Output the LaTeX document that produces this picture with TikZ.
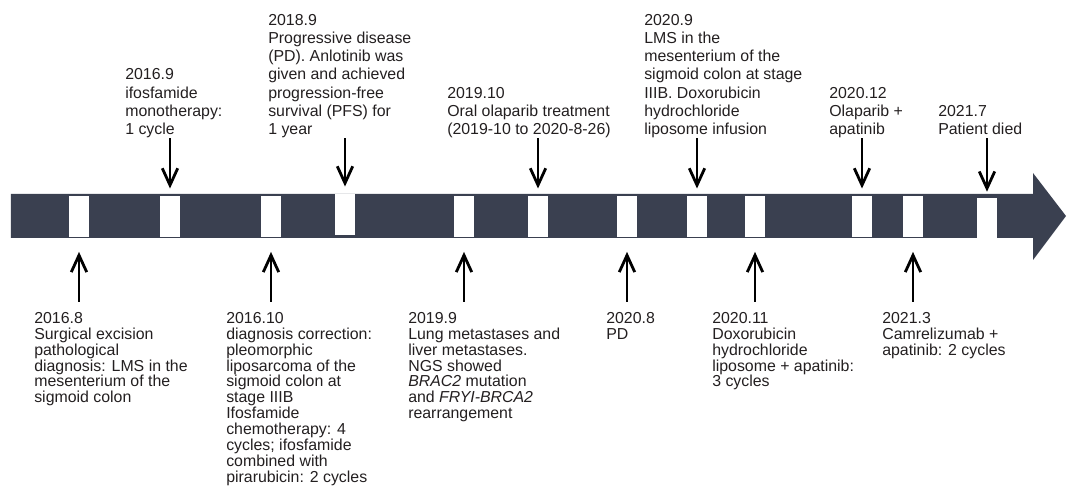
\documentclass[tikz,border=0pt]{standalone}
\usepackage{fontspec}
\setmainfont{Liberation Sans}
\usetikzlibrary{arrows.meta}
\definecolor{barcol}{RGB}{58,64,80}
\definecolor{txtcol}{RGB}{35,31,32}

\begin{document}
\begin{tikzpicture}[
	slot/.style={fill=white, inner sep=0pt, minimum width=0.48cm, minimum height=1.02cm},
	toptxt/.style={anchor=south west, inner sep=0pt, align=left, text=txtcol, font=\fontsize{11.3}{13}\selectfont},
	bottxt/.style={anchor=north west, inner sep=0pt, align=left, text=txtcol, font=\fontsize{11.3}{11.3}\selectfont},
	arr/.style={-{Straight Barb[length=12pt,width=11pt]}, line width=2pt},
	]
	%\draw[help lines] (0,0) grid (27,12);
	\useasboundingbox (0,0) rectangle (26.675,12.15);
	\fill[barcol] (0.275,6.2) -- (25.825,6.2) -- (25.825,5.65) -- (26.65,6.75)
		-- (25.825,7.825) -- (25.825,7.3) -- (0.275,7.3) -- cycle;

	\node[slot] (s1) at (1.975,6.74) {};
	\node[slot] (s2) at (4.25,6.74) {};
	\node[slot] (s3) at (6.775,6.74) {};
	\node[slot] (s4) at (8.625,6.79) {};
	\node[slot] (s5) at (11.6,6.74) {};
	\node[slot] (s6) at (13.45,6.74) {};
	\node[slot] (s7) at (15.675,6.74) {};
	\node[slot] (s8) at (17.425,6.74) {};
	\node[slot] (s9) at (18.875,6.74) {};
	\node[slot] (s10) at (21.55,6.74) {};
	\node[slot] (s11) at (22.825,6.74) {};
	\node[slot] (s12) at (24.675,6.70) {};

	\node[toptxt] (t2) at (3.125,8.69) {2016.9\\ifosfamide\\monotherapy:\\1 cycle};
	\node[toptxt] (t4) at (6.7,8.69) {2018.9\\Progressive disease\\(PD). Anlotinib was\\given and achieved\\progression-free\\survival (PFS) for\\1 year};
	\node[toptxt] (t6) at (11.175,8.69) {2019.10\\Oral olaparib treatment\\(2019-10 to 2020-8-26)};
	\node[toptxt] (t8) at (16.1,8.69) {2020.9\\LMS in the\\mesenterium of the\\sigmoid colon at stage\\IIIB. Doxorubicin\\hydrochloride\\liposome infusion};
	\node[toptxt] (t10) at (20.725,8.69) {2020.12\\Olaparib +\\apatinib};
	\node[toptxt] (t12) at (23.45,8.69) {2021.7\\Patient died\vphantom{p}};

	\node[bottxt] (t1) at (0.85,4.35) {2016.8\\Surgical excision\\pathological\\diagnosis: LMS in the\\mesenterium of the\\sigmoid colon};
	\node[bottxt] (t3) at (5.65,4.35) {2016.10\\diagnosis correction:\\pleomorphic\\liposarcoma of the\\sigmoid colon at\\stage IIIB\\Ifosfamide\\chemotherapy: 4\\cycles; ifosfamide\\combined with\\pirarubicin: 2 cycles};
	\node[bottxt] (t5) at (10.2,4.35) {2019.9\\Lung metastases and\\liver metastases.\\NGS showed\\\textit{BRAC2} mutation\\and \textit{FRYI-BRCA2}\\rearrangement};
	\node[bottxt] (t7) at (15.15,4.35) {2020.8\\PD};
	\node[bottxt] (t9) at (17.8,4.35) {2020.11\\Doxorubicin\\hydrochloride\\liposome + apatinib:\\3 cycles};
	\node[bottxt] (t11) at (22.05,4.35) {2021.3\\Camrelizumab +\\apatinib: 2 cycles};

	\coordinate (a2) at (4.25,8.69);
	\coordinate (a4) at (8.625,8.69);
	\coordinate (a6) at (13.45,8.69);
	\coordinate (a8) at (17.425,8.69);
	\coordinate (a10) at (21.55,8.69);
	\coordinate (a12) at (24.675,8.69);
	\draw[arr,shorten >=0.18cm](a2)--(s2.north);
	\draw[arr,shorten >=0.18cm](a4)--(s4.north);
	\draw[arr,shorten >=0.18cm](a6)--(s6.north);
	\draw[arr,shorten >=0.18cm](a8)--(s8.north);
	\draw[arr,shorten >=0.18cm](a10)--(s10.north);
	\draw[arr,shorten >=0.14cm](a12)--(s12.north);

	\coordinate (b1) at (1.975,4.6);
	\coordinate (b3) at (6.775,4.6);
	\coordinate (b5) at (11.6,4.6);
	\coordinate (b7) at (15.675,4.6);
	\coordinate (b9) at (18.875,4.6);
	\coordinate (b11) at (22.825,4.6);
	\draw[arr,shorten >=0.37cm](b1)--(s1.south);
	\draw[arr,shorten >=0.37cm](b3)--(s3.south);
	\draw[arr,shorten >=0.37cm](b5)--(s5.south);
	\draw[arr,shorten >=0.37cm](b7)--(s7.south);
	\draw[arr,shorten >=0.37cm](b9)--(s9.south);
	\draw[arr,shorten >=0.37cm](b11)--(s11.south);

\end{tikzpicture}
\end{document}
